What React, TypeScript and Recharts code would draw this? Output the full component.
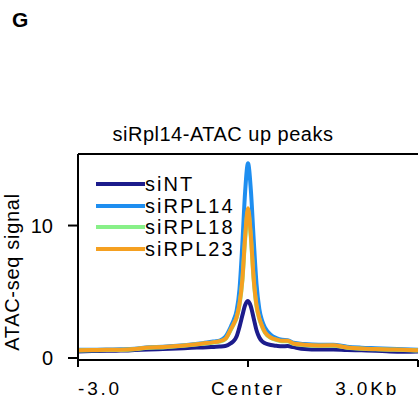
import { Legend, Line, LineChart, ReferenceLine, XAxis, YAxis } from "recharts";

// distance from peak center, bp
const positions = [
  -3000, -2750, -2500, -2250, -2000, -1750, -1500, -1250, -1000, -800, -600, -500, -400, -300, -250, -200, -150,
  -100, -50, 0, 50, 100, 150, 200, 250, 300, 400, 500, 600, 700, 800, 1000, 1250, 1500, 1750, 2000, 2250, 2500,
  2750, 3000,
];

const siNT = [
  0.5, 0.52, 0.55, 0.56, 0.6, 0.65, 0.68, 0.72, 0.77, 0.8, 0.84, 0.86, 0.9, 1.12, 1.3, 1.65, 2.35, 3.2, 4.0, 4.3,
  3.9, 3.0, 2.1, 1.55, 1.25, 1.12, 0.98, 0.92, 0.88, 0.9, 0.82, 0.68, 0.64, 0.65, 0.6, 0.58, 0.55, 0.5, 0.48, 0.5,
];
const siRPL14 = [
  0.62, 0.63, 0.64, 0.66, 0.7, 0.82, 0.85, 0.92, 1.02, 1.12, 1.25, 1.32, 1.6, 2.4, 2.9, 3.6, 5.2, 8.6, 12.6, 14.7,
  12.7, 9.0, 5.6, 3.7, 2.8, 2.3, 1.75, 1.5, 1.38, 1.35, 1.15, 1.05, 1.0, 1.0, 0.85, 0.78, 0.74, 0.7, 0.66, 0.62,
];
const siRPL18 = [
  0.56, 0.58, 0.6, 0.61, 0.66, 0.78, 0.8, 0.88, 0.98, 1.07, 1.17, 1.24, 1.42, 2.15, 2.55, 3.05, 4.0, 5.8, 9.0, 11.1,
  9.1, 5.9, 3.9, 2.95, 2.35, 1.9, 1.52, 1.37, 1.27, 1.27, 1.07, 0.97, 0.92, 0.93, 0.78, 0.7, 0.66, 0.63, 0.6, 0.56,
];
const siRPL23 = [
  0.58, 0.6, 0.62, 0.63, 0.68, 0.8, 0.83, 0.9, 1.0, 1.1, 1.2, 1.27, 1.45, 2.2, 2.6, 3.1, 4.1, 5.9, 9.2, 11.3, 9.3,
  6.0, 4.0, 3.0, 2.4, 1.95, 1.55, 1.4, 1.3, 1.3, 1.1, 1.0, 0.95, 0.96, 0.8, 0.72, 0.68, 0.65, 0.62, 0.58,
];

const xTicks = [-3000, 0, 3000];
const xTickLabels = ["-3.0", "Center", "3.0Kb"];
const yTicks = [0, 10];

const series = [
  { key: "siNT", color: "#1c1c8c" },
  { key: "siRPL14", color: "#1e8ef0" },
  { key: "siRPL18", color: "#88f088" },
  { key: "siRPL23", color: "#f5a020" },
];

const data = positions.map((pos, i) => ({
  pos,
  siNT: siNT[i],
  siRPL14: siRPL14[i],
  siRPL18: siRPL18[i],
  siRPL23: siRPL23[i],
}));

const FONT = "'Liberation Sans', Arial, sans-serif";
const Y_MAX = 15.4;

function XTick({ x, y, payload }: any) {
  const i = xTicks.indexOf(payload.value);
  const last = i === xTicks.length - 1;
  const anchor = i === 0 ? "start" : last ? "end" : "middle";
  return (
    <text
      x={last ? x - 4 : x}
      y={y + 26}
      textAnchor={anchor}
      fontSize={19}
      letterSpacing={2.8}
      fill="#000"
      fontFamily={FONT}
    >
      {xTickLabels[i]}
    </text>
  );
}

function renderLegend() {
  return (
    <div style={{ fontFamily: FONT }}>
      {series.map((s) => (
        <div key={s.key} style={{ display: "flex", alignItems: "center", height: 21.7 }}>
          <span style={{ width: 49, height: 4, background: s.color, display: "inline-block" }} />
          <span style={{ fontSize: 20, letterSpacing: 2, color: "#000", lineHeight: 1 }}>{s.key}</span>
        </div>
      ))}
    </div>
  );
}

export default function App() {
  return (
    <div style={{ position: "relative", width: 419, height: 405, fontFamily: FONT, background: "#fff" }}>
      <style>{`body { margin: 0; }`}</style>
      <svg width={419} height={405} style={{ position: "absolute", left: 0, top: 0, pointerEvents: "none" }}>
        <text x={12} y={27} fontSize={21} fontWeight="bold" fontFamily={FONT} fill="#000">
          G
        </text>
        <text x={223} y={141} textAnchor="middle" fontSize={20} letterSpacing={0.5} fontFamily={FONT} fill="#000">
          siRpl14-ATAC up peaks
        </text>
      </svg>
      <LineChart width={419} height={405} data={data} margin={{ top: 154, right: 1, bottom: 0, left: 0 }}>
        <XAxis
          dataKey="pos"
          type="number"
          domain={[-3000, 3000]}
          ticks={xTicks}
          tick={<XTick />}
          tickSize={7}
          height={45}
          axisLine={{ stroke: "#000", strokeWidth: 2 }}
          tickLine={{ stroke: "#000", strokeWidth: 2 }}
        />
        <YAxis
          type="number"
          domain={[-0.15, Y_MAX]}
          ticks={yTicks}
          width={78}
          tickSize={10}
          tickMargin={15}
          tick={{ fontSize: 20, fill: "#000", fontFamily: FONT }}
          axisLine={{ stroke: "#000", strokeWidth: 2 }}
          tickLine={{ stroke: "#000", strokeWidth: 2 }}
          label={{
            content: () => (
              <text
                x={19}
                y={272}
                transform="rotate(-90, 19, 272)"
                textAnchor="middle"
                fontSize={20}
                letterSpacing={0.7}
                fontFamily={FONT}
                fill="#000"
              >
                ATAC-seq signal
              </text>
            ),
          }}
        />
        <ReferenceLine y={Y_MAX} stroke="#000" strokeWidth={2} />
        {series.map((s) => (
          <Line
            key={s.key}
            dataKey={s.key}
            type="monotone"
            stroke={s.color}
            strokeWidth={4}
            dot={false}
            activeDot={false}
            isAnimationActive={false}
          />
        ))}
        <Legend
          layout="vertical"
          align="center"
          verticalAlign="middle"
          content={renderLegend}
          wrapperStyle={{ position: "absolute", left: 96, top: 173, width: "auto", height: "auto" }}
        />
      </LineChart>
    </div>
  );
}
